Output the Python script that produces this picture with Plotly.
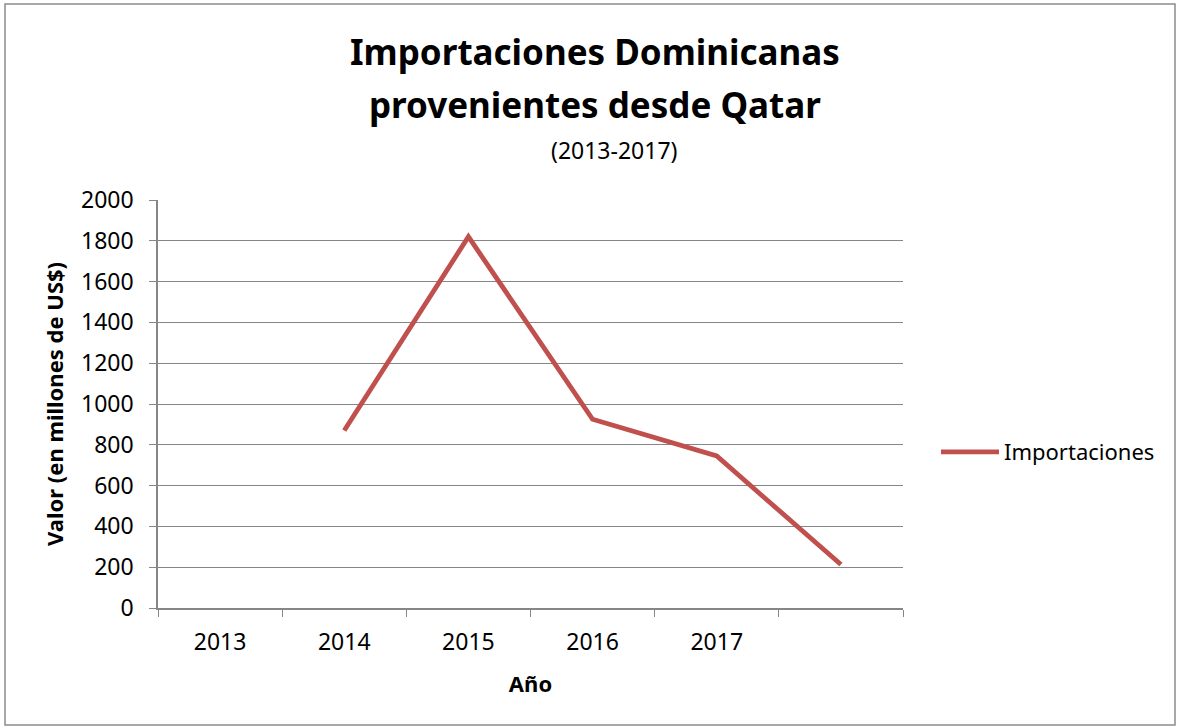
import plotly.graph_objects as go

# ---- data ----
years = ["2013", "2014", "2015", "2016", "2017", " "]
importaciones = [None, 870, 1820, 925, 745, 213]
y_ticks = [0, 200, 400, 600, 800, 1000, 1200, 1400, 1600, 1800, 2000]

title_line1 = "Importaciones Dominicanas"
title_line2 = "provenientes desde Qatar"
subtitle = "(2013-2017)"
y_title = "Valor (en millones de US$)"
x_title = "Año"
series_name = "Importaciones"

FONT = "Noto Sans"
GRID = "#868686"
RED = "#C0504D"

W, H = 1179, 728
L, R, T, B = 158, 276, 200, 120
pw, ph = W - L - R, H - T - B


def px_to_paper_x(px):
    return (px - L) / pw


def px_to_paper_y(py):
    return (H - B - py) / ph


fig = go.Figure()
fig.add_trace(go.Scatter(
    x=years, y=importaciones, mode="lines", name=series_name,
    line=dict(color=RED, width=4.8), connectgaps=False,
))

fig.update_layout(
    width=W, height=H,
    margin=dict(l=L, r=R, t=T, b=B, pad=0),
    paper_bgcolor="white", plot_bgcolor="white",
    font=dict(family=FONT, size=22, color="black"),
    showlegend=True,
    legend=dict(
        x=px_to_paper_x(936), y=px_to_paper_y(452), xanchor="left", yanchor="middle",
        font=dict(family=FONT, size=22, color="black"),
        itemwidth=58, bgcolor="rgba(0,0,0,0)",
    ),
    xaxis=dict(
        type="category", categoryorder="array", categoryarray=years,
        range=[-0.5, len(years) - 0.5],
        tickson="boundaries", ticks="outside", ticklen=7, tickcolor=GRID, tickwidth=1.3,
        showline=True, linecolor=GRID, linewidth=1.5, showgrid=False,
        tickfont=dict(family=FONT, size=23, color="black"),
        ticklabelstandoff=13,
        title=dict(text="<b>" + x_title + "</b>", font=dict(family=FONT, size=22), standoff=20),
        fixedrange=True,
    ),
    yaxis=dict(
        range=[0, 2000], tickvals=y_ticks, ticks="outside", ticklen=7,
        tickcolor=GRID, tickwidth=1.3,
        showline=True, linecolor=GRID, linewidth=1.5,
        showgrid=True, gridcolor=GRID, gridwidth=1.4, zeroline=False,
        tickfont=dict(family=FONT, size=23, color="black"),
        ticklabelstandoff=11,
        title=dict(text="<b>" + y_title + "</b>", font=dict(family=FONT, size=22), standoff=11),
        fixedrange=True,
    ),
    shapes=[dict(
        type="rect", xref="paper", yref="paper",
        x0=px_to_paper_x(5), x1=px_to_paper_x(1175),
        y0=px_to_paper_y(725), y1=px_to_paper_y(4),
        line=dict(color="#8C8C8C", width=1.5), fillcolor="rgba(0,0,0,0)", layer="below",
    )],
    annotations=[
        dict(text="<b>" + title_line1 + "</b>", xref="paper", yref="paper",
             x=px_to_paper_x(595), y=px_to_paper_y(52), xanchor="center", yanchor="middle",
             showarrow=False, font=dict(family=FONT, size=35, color="black")),
        dict(text="<b>" + title_line2 + "</b>", xref="paper", yref="paper",
             x=px_to_paper_x(595), y=px_to_paper_y(105), xanchor="center", yanchor="middle",
             showarrow=False, font=dict(family=FONT, size=35, color="black")),
        dict(text=subtitle, xref="paper", yref="paper",
             x=px_to_paper_x(614), y=px_to_paper_y(150), xanchor="center", yanchor="middle",
             showarrow=False, font=dict(family=FONT, size=23, color="black")),
    ],
)

fig.write_html("out.html")
